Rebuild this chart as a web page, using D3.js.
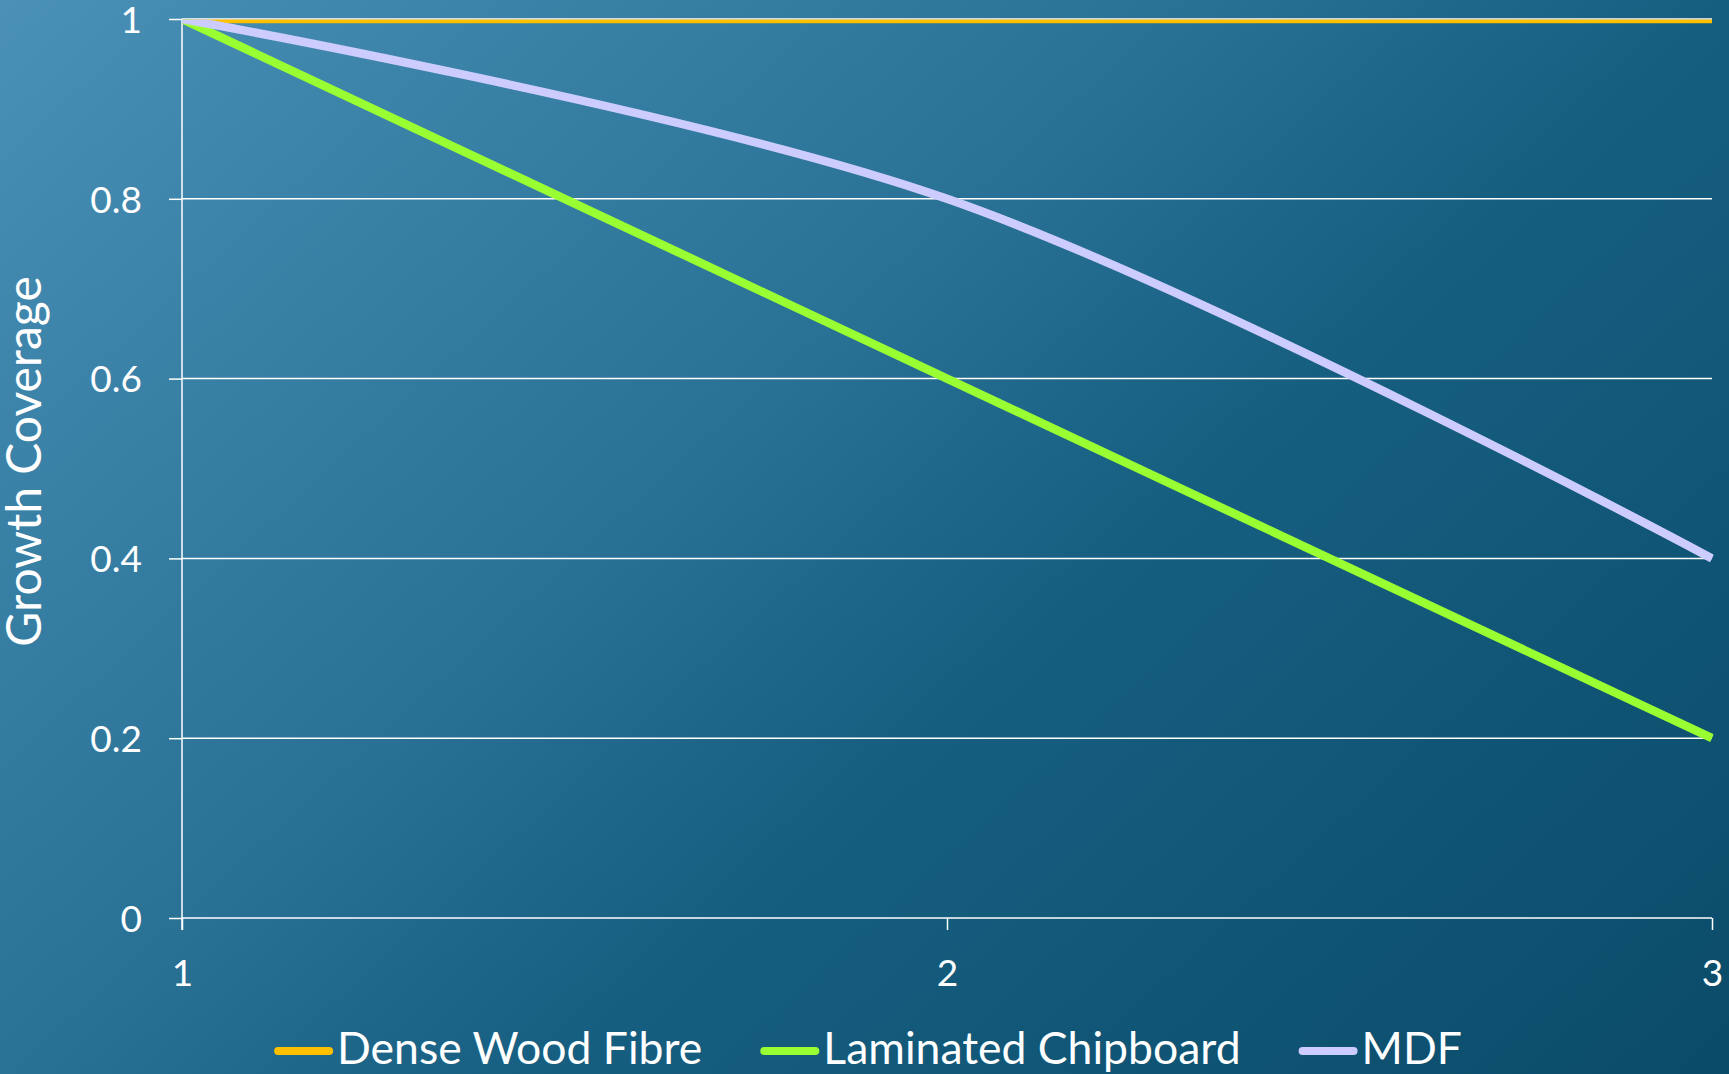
<!DOCTYPE html>
<html>
<head>
<meta charset="utf-8">
<script src="https://cdn.jsdelivr.net/npm/d3@7"></script>
<style>
  html, body { margin: 0; padding: 0; background: #0a4868; }
  svg { display: block; font-family: Lato, "Open Sans", sans-serif; }
</style>
</head>
<body>
<svg id="chart" width="1729" height="1074"></svg>
<script>
// Sample points along the x axis
const xValues = [1, 2, 3];
const xTickValues = [1, 2, 3];
const yTickValues = [0, 0.2, 0.4, 0.6, 0.8, 1];

// Growth coverage per material
const seriesNames = ["Dense Wood Fibre", "Laminated Chipboard", "MDF"];
const denseWoodFibre = [1, 1, 1];
const laminatedChipboard = [1, 0.6, 0.2];
const mdf = [1, 0.8, 0.4];
const seriesColors = ["#FFC000", "#99FF33", "#CCCCFF"];

const yAxisTitle = "Growth Coverage";

const W = 1729, H = 1074;
const plot = { left: 182, right: 1712, top: 19, bottom: 918 };

const svg = d3.select("#chart");
const defs = svg.append("defs");

// Diagonal background gradient, light steel blue to deep teal
const bg = defs.append("linearGradient")
  .attr("id", "bgGrad")
  .attr("gradientUnits", "userSpaceOnUse")
  .attr("x1", 0).attr("y1", 0).attr("x2", 1320).attr("y2", 1447);
[[0, "#4a90b7"], [0.42, "#287094"], [0.6, "#165e80"], [1, "#0a4b69"]]
  .forEach(([o, c]) => bg.append("stop").attr("offset", o).attr("stop-color", c));

svg.append("rect").attr("width", W).attr("height", H).attr("fill", "url(#bgGrad)");

defs.append("clipPath").attr("id", "plotClip")
  .append("rect")
  .attr("x", plot.left).attr("y", plot.top + 0.4)
  .attr("width", plot.right - plot.left + 1.5)
  .attr("height", plot.bottom - plot.top + 10);

const x = d3.scaleLinear().domain([1, 3]).range([plot.left, plot.right]);
const y = d3.scaleLinear().domain([0, 1]).range([plot.bottom, plot.top]);

// Horizontal gridlines
svg.append("g").selectAll("line")
  .data(yTickValues)
  .join("line")
  .attr("x1", plot.left).attr("x2", plot.right)
  .attr("y1", d => y(d)).attr("y2", d => y(d))
  .attr("stroke", "#ffffff").attr("stroke-width", 1.5);

// Y axis with outward ticks
const yAxis = svg.append("g")
  .attr("transform", `translate(${plot.left},0)`)
  .call(d3.axisLeft(y).tickValues(yTickValues).tickSize(13).tickPadding(27)
    .tickFormat(d => d3.format("~g")(d)));
yAxis.select(".domain").remove();
yAxis.selectAll(".tick line").attr("stroke", "#ffffff").attr("stroke-width", 1.5);
yAxis.selectAll(".tick text")
  .attr("fill", "#ffffff").attr("font-size", 37).attr("font-family", "Lato")
  .attr("dy", "0.36em");

// Vertical axis line running down to the x tick length
svg.append("line")
  .attr("x1", plot.left).attr("x2", plot.left)
  .attr("y1", y(1)).attr("y2", y(0) + 12)
  .attr("stroke", "#ffffff").attr("stroke-width", 1.5);

// X axis
const xAxis = svg.append("g")
  .attr("transform", `translate(0,${plot.bottom})`)
  .call(d3.axisBottom(x).tickValues(xTickValues).tickSize(12).tickPadding(0)
    .tickFormat(d3.format("d")));
xAxis.select(".domain").remove();
xAxis.selectAll(".tick line").attr("stroke", "#ffffff").attr("stroke-width", 1.5);
xAxis.selectAll(".tick text")
  .attr("fill", "#ffffff").attr("font-size", 37).attr("font-family", "Lato")
  .attr("y", 68).attr("dy", 0);

// Series lines
const seriesValues = [denseWoodFibre, laminatedChipboard, mdf];
const lineGen = d3.line()
  .x((d, i) => x(xValues[i]))
  .y(d => y(d))
  .curve(d3.curveCatmullRom.alpha(0.5));

svg.append("g").attr("clip-path", "url(#plotClip)")
  .selectAll("path")
  .data(seriesValues)
  .join("path")
  .attr("d", d => lineGen(d))
  .attr("fill", "none")
  .attr("stroke", (d, i) => seriesColors[i])
  .attr("stroke-width", 8.5)
  .attr("stroke-linecap", "butt")
  .attr("stroke-linejoin", "round");

// Y axis title
svg.append("text")
  .attr("transform", `translate(41,${(plot.top + plot.bottom) / 2 - 7}) rotate(-90)`)
  .attr("text-anchor", "middle")
  .attr("fill", "#ffffff")
  .attr("font-size", 48)
  .attr("font-family", "Lato")
  .text(yAxisTitle);

// Legend, centred under the chart
const legend = svg.append("g");
const swatchW = 59, swatchGap = 4, itemGap = 58, legendBaseline = 1064, legendMid = 1051;
const items = legend.selectAll("g").data(seriesNames).join("g");
items.append("line")
  .attr("x1", 4).attr("x2", swatchW - 4)
  .attr("y1", legendMid).attr("y2", legendMid)
  .attr("stroke", (d, i) => seriesColors[i])
  .attr("stroke-width", 8)
  .attr("stroke-linecap", "round");
items.append("text")
  .attr("x", swatchW + swatchGap)
  .attr("y", legendBaseline)
  .attr("fill", "#ffffff")
  .attr("font-size", 44.5)
  .attr("font-family", "Lato")
  .text(d => d);

const widths = [];
items.each(function () {
  widths.push(swatchW + swatchGap + d3.select(this).select("text").node().getComputedTextLength());
});
const total = d3.sum(widths) + itemGap * (widths.length - 1);
let cursor = 868 - total / 2;
items.attr("transform", (d, i) => {
  const tx = cursor;
  cursor += widths[i] + itemGap;
  return `translate(${tx},0)`;
});
</script>
</body>
</html>
